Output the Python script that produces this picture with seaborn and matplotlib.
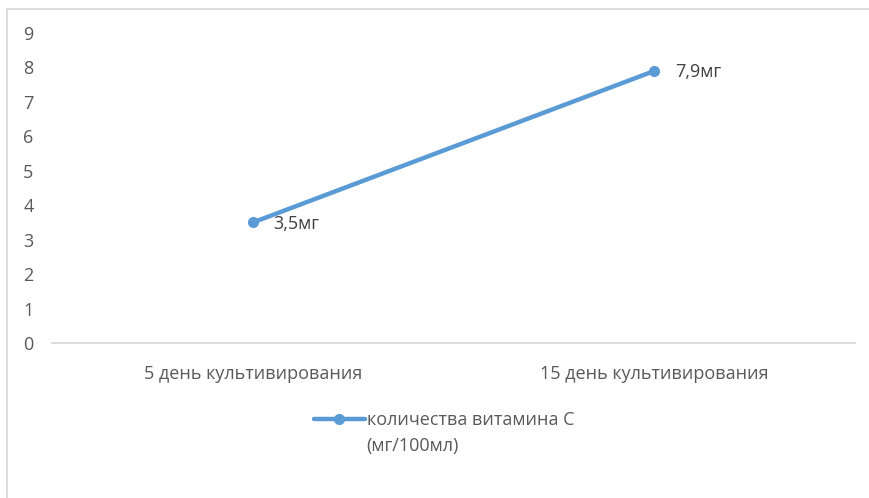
import matplotlib
matplotlib.use("Agg")
import matplotlib.pyplot as plt
import seaborn as sns
import pandas as pd
from matplotlib.patches import Rectangle
from matplotlib.lines import Line2D

sns.set_theme(style="white")
plt.rcParams['font.family'] = ['Open Sans', 'DejaVu Sans']

categories = ["5 день культивирования", "15 день культивирования"]
values = [3.5, 7.9]
value_labels = ["3,5мг", "7,9мг"]
series_name = "количества витамина С"
series_unit = "(мг/100мл)"
y_ticks = list(range(0, 10))

LINE_COLOR = "#5B9BD5"
TEXT_COLOR = "#595959"
AXIS_COLOR = "#D9D9D9"
FS = 13

df = pd.DataFrame({"day": categories, "vitc": values})

fig = plt.figure(figsize=(8.7, 4.98), dpi=100)
ax = fig.add_axes([0.0598, 0.3112, 0.9232, 0.6225])

sns.lineplot(data=df, x="day", y="vitc", ax=ax, color=LINE_COLOR,
             linewidth=3.2, marker="o", markersize=8, markeredgewidth=0,
             solid_capstyle="round", sort=False)

for cat, v, lab in zip(categories, values, value_labels):
    ax.annotate(lab, (cat, v), xytext=(15, -1), textcoords="offset points",
                ha="left", va="center", fontsize=FS, color="#404040")

ax.set_xlim(-0.5, 1.5)
ax.set_ylim(0, 9)
ax.set_yticks(y_ticks)
ax.set_xlabel("")
ax.set_ylabel("")
ax.tick_params(axis="both", length=0, labelsize=FS, labelcolor=TEXT_COLOR)
ax.tick_params(axis="x", pad=16)
ax.tick_params(axis="y", pad=17)
for lab in ax.get_yticklabels():
    lab.set_horizontalalignment("center")

for side in ["top", "right", "left"]:
    ax.spines[side].set_visible(False)
ax.spines["bottom"].set_color(AXIS_COLOR)
ax.spines["bottom"].set_linewidth(1.3)

# chart frame
fig.patches.append(Rectangle((7 / 870, -0.1), 1.2, 1 - 9 / 498 + 0.1,
                             transform=fig.transFigure, fill=False,
                             edgecolor="#D9D9D9", linewidth=1.3))

handle = Line2D([], [], color=LINE_COLOR, linewidth=3.2, marker="o",
                markersize=8, markeredgewidth=0, solid_capstyle="round")
leg = fig.legend([handle], [series_name], loc="center left",
                 bbox_to_anchor=(314 / 870, 1 - 420 / 498), frameon=False,
                 fontsize=FS, handlelength=2.8, handletextpad=0.15,
                 borderpad=0, borderaxespad=0)
for t in leg.get_texts():
    t.set_color(TEXT_COLOR)
fig.text(366 / 870, 1 - 446 / 498, series_unit, ha="left", va="center",
         fontsize=FS, color=TEXT_COLOR)

fig.savefig("out.png", dpi=100)
